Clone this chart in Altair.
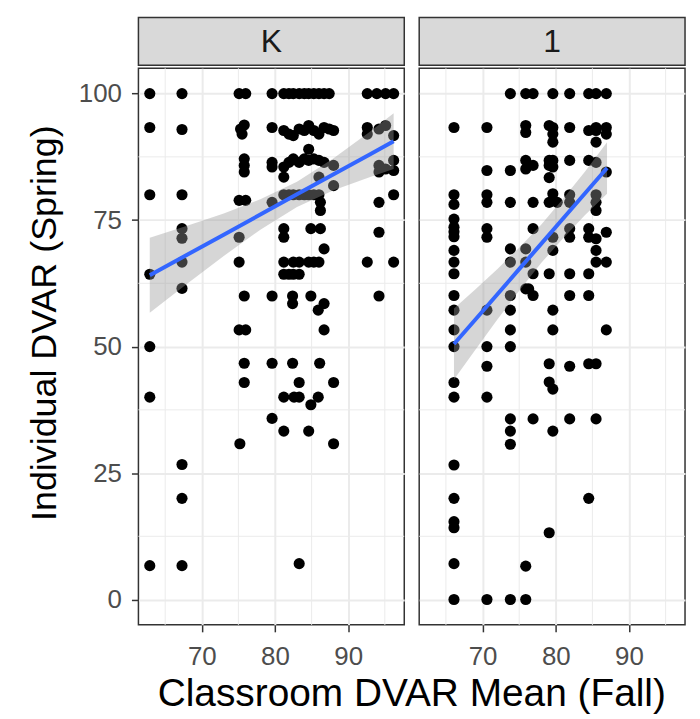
import altair as alt
import pandas as pd

FONT = "Liberation Sans"

# ---------------- data ----------------
# Panel "K"
k_x = [62.9, 62.9, 62.9, 62.9, 62.9, 62.9, 62.9,
       67.3, 67.3, 67.3, 67.3, 67.3, 67.3, 67.3, 67.3, 67.3, 67.3,
       75.1, 76.0, 75.8, 75.3, 75.5, 75.8, 75.8, 75.8, 75.1, 76.0, 75.1, 75.1, 75.8, 75.1, 76.0, 75.8, 75.8, 75.2,
       79.6, 79.6, 79.6, 79.6, 79.6, 79.6, 79.6, 79.6,
       81.2, 81.2, 81.2, 81.2, 81.2, 81.2, 81.2, 81.2, 81.2, 81.2, 81.2,
       81.9, 81.9, 81.9, 81.9, 81.9,
       82.5, 82.5, 82.5, 82.5, 82.5, 82.5, 82.4, 82.4, 82.4, 82.6,
       83.3, 83.3, 83.3, 83.3, 83.3, 83.3, 83.3, 83.3, 83.3,
       84.0, 84.0, 84.0, 84.0,
       84.6, 84.6, 84.6, 84.6, 84.6, 84.6, 84.6,
       84.9, 84.9, 84.9,
       85.3, 85.3, 85.3, 85.3, 85.3,
       86.0, 86.0, 86.0, 86.0, 86.0, 86.0, 85.9, 85.9,
       86.2, 86.2, 86.2, 86.1,
       86.7, 86.7, 86.7, 86.7, 86.7, 86.7,
       87.4, 87.4,
       88.0, 88.0, 88.0, 88.0, 88.0,
       92.6, 92.6, 92.6, 92.6,
       93.9, 94.2, 94.2, 94.2, 94.2, 94.2, 94.2,
       95.1, 95.1, 95.1,
       96.2, 96.2, 96.2, 96.2, 96.2, 96.2]
k_y = [100, 93.3, 80, 64.3, 50, 40, 6.7,
       100, 92.9, 80, 73.3, 71.4, 66.7, 61.5, 26.7, 20, 6.7,
       100, 100, 93.8, 93.0, 92.0, 87.1, 85.8, 84.5, 78.9, 78.9, 71.6, 66.7, 60.0, 53.3, 53.3, 46.7, 42.9, 30.8,
       100, 93.3, 86.4, 85.5, 78.5, 60, 46.7, 35.8,
       100, 92.7, 85.5, 83.5, 80, 73.3, 71.6, 66.7, 64.3, 40, 33.3,
       100, 92.0, 86.4, 80, 64.3,
       100, 91.7, 87.1, 80, 66.7, 64.3, 60, 58.5, 46.7, 40,
       100, 93.0, 86.4, 80, 66.7, 64.3, 42.9, 40, 7.1,
       100, 92.7, 87.1, 80,
       100, 93.7, 89.0, 86.8, 80, 66.7, 33.3,
       73.3, 60, 38.5,
       100, 92.7, 87.1, 80, 66.7,
       100, 92.0, 86.8, 83.5, 80, 66.7, 57.2, 40,
       78.5, 76.9, 73.3, 46.7,
       100, 93.3, 86.4, 69.3, 58.5, 53.3,
       100, 93.0,
       92.7, 85.8, 81.8, 42.9, 30.8,
       100, 93.3, 92.0, 66.7,
       100, 93.0, 85.8, 84.5, 78.5, 72.6, 60,
       100, 93.7, 85.1,
       100, 91.7, 86.8, 84.8, 80, 66.7]

# Panel "1"
g1_x = [66.1] * 22 + [70.6] * 11 + [73.8] * 13 + [75.9] * 10 + [76.3, 76.9, 76.9, 76.9, 76.9, 76.9, 76.9, 76.9] \
       + [79.1] * 9 + [79.6] * 13 + [80.2] + [81.9] * 11 + [84.5] * 9 + [85.5] * 13 + [86.9] * 7
g1_y = [93.3, 80, 78.1, 75.2, 73.6, 72.7, 71.7, 69, 66.7, 64.4, 60.1, 57.2, 53.3, 50, 42.9, 40, 26.6, 20, 15.4, 14.2, 7.1, 0,
        93.3, 84.8, 80, 78.5, 73.3, 71.6, 57.2, 50, 46.1, 40, 0,
        100, 84.8, 78.5, 69.3, 66.7, 60.1, 57.2, 53.3, 50, 35.7, 33.3, 30.7, 0,
        100, 93.7, 92.3, 86.8, 85.1, 69.3, 66.7, 61.4, 6.6, 0,
        61.4, 100, 85.8, 78.5, 73.3, 64.4, 60.1, 35.7,
        93.7, 86.8, 85.8, 83.4, 78.5, 64.4, 46.6, 43.0, 13.2,
        100, 93.3, 92.0, 90.4, 86.8, 85.5, 80.2, 71.6, 69, 57.2, 53.3, 41.6, 33.3,
        78.5,
        100, 93.3, 86.8, 80, 78.5, 73.3, 71.6, 64.4, 60.1, 46.1, 35.7,
        100, 92.7, 86.8, 73.3, 71.6, 64.4, 60.1, 46.6, 20,
        100, 93.3, 92.7, 90.4, 86.4, 80, 78.5, 76.9, 71.3, 69, 66.7, 46.6, 35.7,
        100, 93.3, 92.0, 84.5, 72.6, 66.7, 53.3]

# linear fit with 95% band
k_fit_x = [62.9, 68, 73, 78, 83, 88, 93, 96.2]
k_fit_y = [64.1, 68.15, 72.1, 76.1, 80.1, 84.05, 88.0, 90.6]
k_fit_lo = [56.7, 62.4, 67.9, 73.1, 77.6, 80.9, 83.5, 85.1]
k_fit_hi = [71.5, 73.9, 76.3, 79.1, 82.6, 87.2, 92.5, 96.1]

g1_fit_x = [66.1, 69, 72, 75, 78, 81, 84, 87]
g1_fit_y = [50.5, 55.3, 60.3, 65.3, 70.3, 75.3, 80.3, 85.3]
g1_fit_lo = [43.5, 49.3, 55.3, 61.05, 66.5, 71.4, 76.0, 80.2]
g1_fit_hi = [57.5, 61.3, 65.3, 69.55, 74.1, 79.2, 84.6, 90.4]

x_major = [70, 80, 90]
x_minor = [65, 75, 85, 95]
y_major = [0, 25, 50, 75, 100]
y_minor = [12.5, 37.5, 62.5, 87.5]

facet_labels = ["K", "1"]
x_title = "Classroom DVAR Mean (Fall)"
y_title = "Individual DVAR (Spring)"

PW, PH, SH = 267, 559, 48
GRID = "#ebebeb"

xs = alt.Scale(domain=[61.35, 97.65], nice=False, zero=False)
ys = alt.Scale(domain=[-5, 105], nice=False, zero=False)


def panel(px, py, fx, fy, flo, fhi, left):
    pts = pd.DataFrame({"x": px, "y": py})
    fit = pd.DataFrame({"x": fx, "y": fy, "lo": flo, "hi": fhi})
    xaxis = alt.Axis(values=x_major, title=None, grid=True, gridColor=GRID, gridWidth=2,
                     domain=False, ticks=True, tickSize=7, tickColor="#333333", tickWidth=1.5,
                     labelFont=FONT, labelFontSize=26, labelColor="#4d4d4d", labelPadding=12)
    if left:
        yaxis = alt.Axis(values=y_major, title=y_title, grid=True, gridColor=GRID, gridWidth=2,
                         domain=False, ticks=True, tickSize=7, tickColor="#333333", tickWidth=1.5,
                         labelFont=FONT, labelFontSize=26, labelColor="#4d4d4d", labelPadding=10,
                         titleFont=FONT, titleFontSize=36, titleFontWeight="normal", titleColor="black",
                         titlePadding=15, titleY=PH / 2 - 24)
    else:
        yaxis = alt.Axis(values=y_major, title=None, grid=True, gridColor=GRID, gridWidth=2,
                         domain=False, ticks=False, labels=False)
    X = lambda f: alt.X(f, scale=xs, axis=xaxis)
    Y = lambda f: alt.Y(f, scale=ys, axis=yaxis)
    gx = alt.Chart(pd.DataFrame({"v": x_minor})).mark_rule(color=GRID, strokeWidth=1).encode(x=X("v:Q"))
    gy = alt.Chart(pd.DataFrame({"v": y_minor})).mark_rule(color=GRID, strokeWidth=1).encode(y=Y("v:Q"))
    p = alt.Chart(pts).mark_circle(size=125, color="black", opacity=1).encode(x=X("x:Q"), y=Y("y:Q"))
    band = alt.Chart(fit).mark_area(color="#999999", opacity=0.4).encode(
        x=X("x:Q"), y=Y("lo:Q"), y2="hi:Q")
    line = alt.Chart(fit).mark_line(color="#3366FF", strokeWidth=4).encode(x=X("x:Q"), y=Y("y:Q"))
    return alt.layer(gx, gy, p, band, line).properties(width=PW, height=PH)


def strip(label):
    return alt.Chart(pd.DataFrame({"t": [label]})).mark_text(
        font=FONT, fontSize=32, color="#1a1a1a", baseline="middle", align="center").encode(
        text="t:N", x=alt.value(PW / 2), y=alt.value(SH / 2 + 1)).properties(
        width=PW, height=SH,
        view=alt.ViewBackground(fill="#d9d9d9", stroke="#333333", strokeWidth=1.5))


left = alt.vconcat(strip(facet_labels[0]),
                   panel(k_x, k_y, k_fit_x, k_fit_y, k_fit_lo, k_fit_hi, True), spacing=0)
right = alt.vconcat(strip(facet_labels[1]),
                    panel(g1_x, g1_y, g1_fit_x, g1_fit_y, g1_fit_lo, g1_fit_hi, False), spacing=0)

chart = alt.hconcat(left, right, spacing=11).properties(
    title=alt.TitleParams(x_title, orient="bottom", anchor="middle", font=FONT, fontSize=39,
                          fontWeight="normal", color="black", offset=5, dx=56),
    padding={"left": 17, "top": 7, "right": 5, "bottom": 2},
    background="white",
).configure_view(stroke="#333333", strokeWidth=1.5, fill="white")

chart.save("out.html", embed_options={"renderer": "svg", "actions": False})
